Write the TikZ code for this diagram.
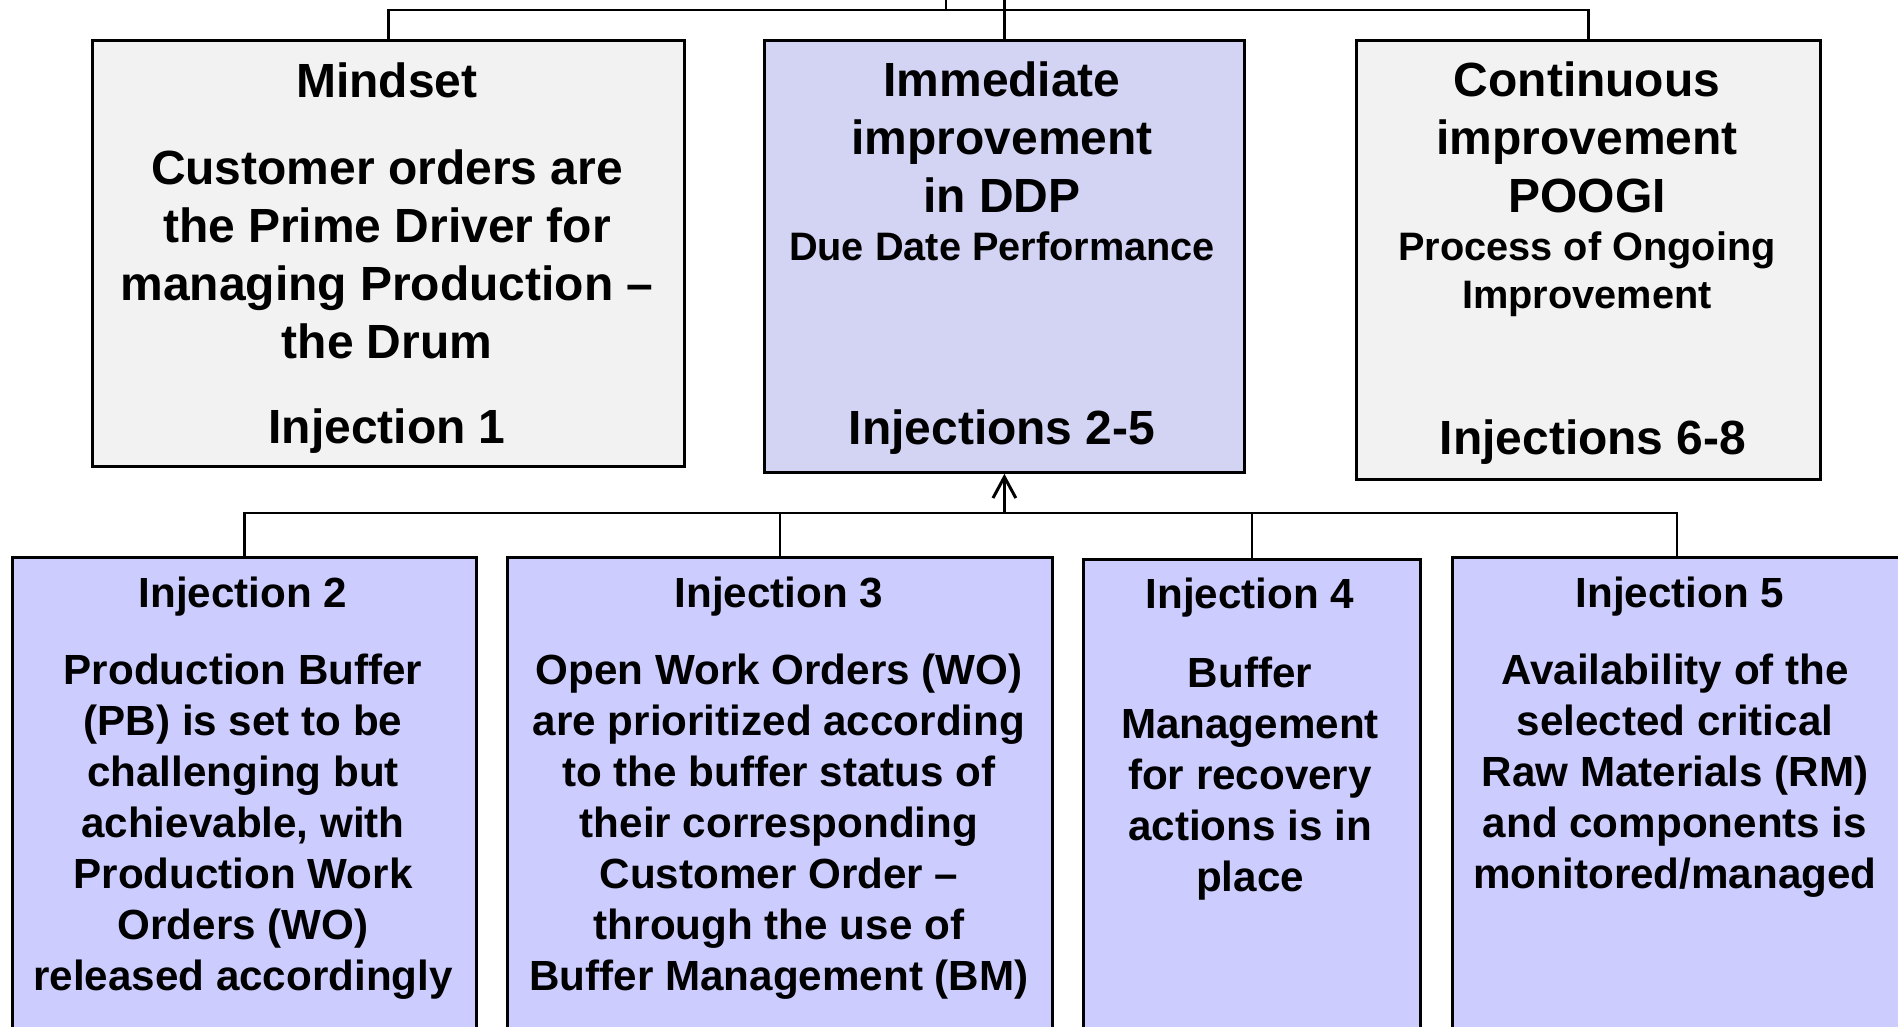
\documentclass[tikz,border=0pt]{standalone}
\usepackage{fontspec}
\setmainfont{Liberation Sans}
\usetikzlibrary{arrows.meta}
\definecolor{greybox}{HTML}{F2F2F2}
\definecolor{ddpbox}{HTML}{D3D3F4}
\definecolor{injbox}{HTML}{CCCCFF}
\begin{document}
\begin{tikzpicture}[x=0.1mm,y=-0.1mm,
    box/.style={draw,line width=0.8pt,anchor=north west,inner sep=0pt},
    wire/.style={line width=0.7pt},
    big/.style={font=\bfseries\fontsize{13.65}{16.5}\selectfont,align=center,anchor=base,inner sep=0pt},
    small/.style={font=\bfseries\fontsize{11.3}{13.66}\selectfont,align=center,anchor=base,inner sep=0pt},
    body/.style={font=\bfseries\fontsize{12}{14.5}\selectfont,align=center,anchor=base,inner sep=0pt}]
        \useasboundingbox (0,0) rectangle (1898,1026);
        \clip (0,0) rectangle (1898,1026);
        %% Top row
        \node[box,fill=greybox,minimum width=59.2mm,minimum height=42.6mm] (mind) at (91,39) {};
        \node[box,fill=ddpbox,minimum width=48mm,minimum height=43.2mm] (ddp) at (763,39) {};
        \node[box,fill=greybox,minimum width=46.4mm,minimum height=43.9mm] (poogi) at (1355,39) {};
        %% Injection boxes
        \node[box,fill=injbox,minimum width=46.4mm,minimum height=50mm] (inj2) at (11,556) {};
        \node[box,fill=injbox,minimum width=54.5mm,minimum height=50mm] (inj3) at (506,556) {};
        \node[box,fill=injbox,minimum width=33.7mm,minimum height=50mm] (inj4) at (1082,558) {};
        \node[box,fill=injbox,minimum width=44.9mm,minimum height=50mm] (inj5) at (1451,556) {};
        %% Bus above
        \coordinate (upL) at (946,-5);
        \coordinate (upM) at (ddp.north |- 0,-5);
        \draw[wire] (upL) -- (946,10);
        \draw[wire] (mind.north) -- ++(0,-29) -| (poogi.north);
        \draw[wire] (upM) -- (ddp.north);
        %% Bus below
        \coordinate (hub) at (ddp.south |- 0,513);
        \draw[wire,line width=0.85pt,-{Straight Barb[length=6pt,width=6.5pt]}] (hub) -- (ddp.south);
        \draw[wire] (inj2.north) -- ++(0,-43) -| (inj5.north);
        \draw[wire] (inj3.north) -- (inj3.north |- hub);
        \draw[wire] (inj4.north) -- (inj4.north |- hub);
        %% Texts (multi-line nodes sit on their last line)
        \node[big] (mindA) at (387,97) {Mindset};
        \node[big] (mindB) at (387,358) {Customer orders are\\the Prime Driver for\\managing Production –\\the Drum};
        \node[big] (mindC) at (387,443) {Injection 1};
        \node[big] (ddpA) at (1002,212) {Immediate\\improvement\\in DDP};
        \node[small] (ddpB) at (1002,260) {Due Date Performance};
        \node[big] (ddpC) at (1002,444) {Injections 2-5};
        \node[big] (poogiA) at (1587,212) {Continuous\\improvement\\POOGI};
        \node[small] (poogiB) at (1587,308) {Process of Ongoing\\Improvement};
        \node[big] (poogiC) at (1593,454) {Injections 6-8};
        \node[body] (inj2A) at (243,607) {Injection 2};
        \node[body] (inj2B) at (243,990) {Production Buffer\\(PB) is set to be\\challenging but\\achievable, with\\Production Work\\Orders (WO)\\released accordingly};
        \node[body] (inj3A) at (779,607) {Injection 3};
        \node[body] (inj3B) at (779,990) {Open Work Orders (WO)\\are prioritized according\\to the buffer status of\\their corresponding\\Customer Order –\\through the use of\\Buffer Management (BM)};
        \node[body] (inj4A) at (1250,608) {Injection 4};
        \node[body] (inj4B) at (1250,891) {Buffer\\Management\\for recovery\\actions is in\\place};
        \node[body] (inj5A) at (1680,607) {Injection 5};
        \node[body] (inj5B) at (1675,888) {Availability of the\\selected critical\\Raw Materials (RM)\\and components is\\monitored/managed};
\end{tikzpicture}
\end{document}
